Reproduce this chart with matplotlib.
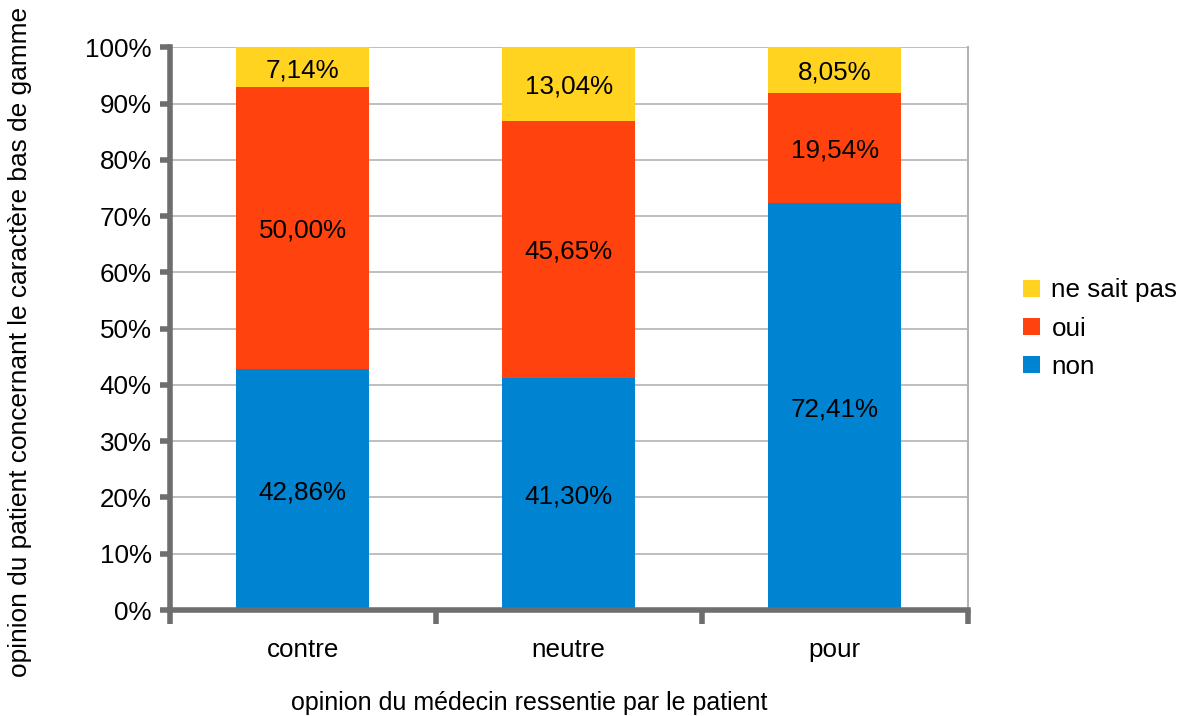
import matplotlib.pyplot as plt
import numpy as np

plt.rcParams['font.family'] = ['Liberation Sans', 'DejaVu Sans']

categories = ['contre', 'neutre', 'pour']
non = [42.86, 41.30, 72.41]
oui = [50.00, 45.65, 19.54]
ne_sait_pas = [7.14, 13.04, 8.05]

series = [('non', non, '#0084d1'),
          ('oui', oui, '#ff420e'),
          ('ne sait pas', ne_sait_pas, '#ffd320')]

fs = 18.7

fig = plt.figure(figsize=(11.8, 7.16), dpi=100)
ax = fig.add_axes([0.144, 0.148, 0.676, 0.786])

x = np.arange(len(categories))
bottom = np.zeros(len(categories))
handles = []
for name, vals, color in series:
    vals = np.array(vals)
    b = ax.bar(x, vals, 0.5, bottom=bottom, color=color, label=name, zorder=3)
    handles.append(b)
    for xi, v, b0 in zip(x, vals, bottom):
        ax.text(xi, b0 + v / 2 - 0.5, f'{v:.2f}'.replace('.', ',') + '%',
                ha='center', va='center', fontsize=fs, zorder=4)
    bottom += vals

ax.set_xlim(-0.5, 2.5)
ax.set_ylim(0, 100)
ax.set_yticks(np.arange(0, 101, 10))
ax.set_yticklabels([f'{v}%' for v in range(0, 101, 10)], fontsize=fs)
ax.yaxis.grid(True, color='#b3b3b3', linewidth=1.2, zorder=0)

ax.set_xticks(x)
ax.set_xticklabels(categories, fontsize=fs)
ax.tick_params(axis='x', which='major', length=0, pad=20)
ax.set_xticks([-0.5, 0.5, 1.5, 2.5], minor=True)
ax.tick_params(axis='x', which='minor', length=10, width=4, color='#6e6e6e')
ax.tick_params(axis='y', length=7, width=4, color='#6e6e6e', pad=6)

for s in ['left', 'bottom']:
    ax.spines[s].set_color('#6e6e6e')
    ax.spines[s].set_linewidth(4)
    ax.spines[s].set_zorder(5)
ax.spines['top'].set_visible(False)
ax.spines['right'].set_color('#b3b3b3')
ax.spines['right'].set_linewidth(1.5)

# axis titles placed like in the original export
fig.text(529 / 1180, 1 - 703 / 716, 'opinion du médecin ressentie par le patient',
         ha='center', va='center', fontsize=18.0)
fig.text(20 / 1180, 1 - 342 / 716, 'opinion du patient concernant le caractère bas de gamme',
         rotation=90, ha='center', va='center', fontsize=18.9)

ax.legend(handles[::-1], [h.get_label() for h in handles[::-1]],
          loc='center left', bbox_to_anchor=(1.04, 0.5), frameon=False,
          fontsize=fs, handlelength=0.65, handleheight=0.65, handletextpad=0.45,
          labelspacing=0.55)

fig.savefig('out.png', dpi=100)
